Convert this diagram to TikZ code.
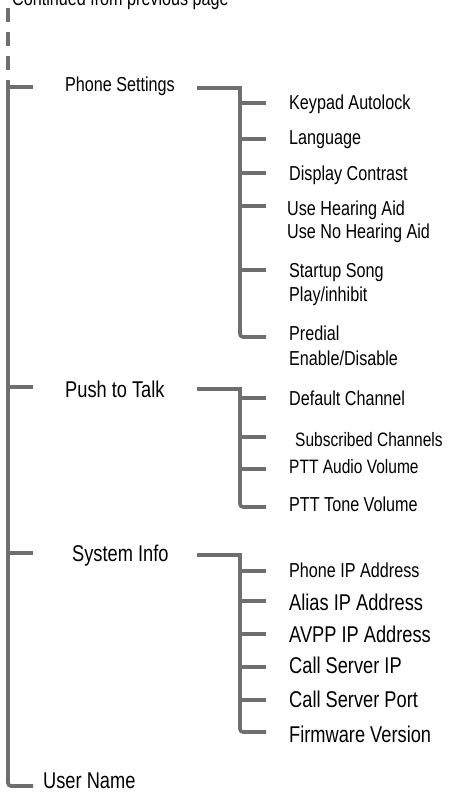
\documentclass[tikz,border=0pt]{standalone}
\usepackage{fontspec}
\setmainfont{Liberation Sans}[FakeStretch=0.8]
\definecolor{lineg}{HTML}{6E6E6E}
\tikzset{
  ln/.style={draw=lineg, line width=3.6pt},
  lbl/.style={anchor=base west, inner sep=0pt, font=\fontsize{20.2}{24}\selectfont},
  mid/.style={lbl, font=\fontsize{19.4}{23}\selectfont},
  big/.style={lbl, font=\fontsize{22.8}{27}\selectfont}
}
\begin{document}
\begin{tikzpicture}[x=1pt,y=-1pt]
\useasboundingbox (0,0) rectangle (453,792);
% texts
\node[lbl] (cont) at (12,6) {Continued from previous page};
\node[lbl] (ps) at (65,91.7) {Phone Settings};
\node[big] (ptt) at (65,397) {Push to Talk};
\node[big] (si) at (72,561) {System Info};
\node[big] (un) at (43,788) {User Name};
\node[lbl] (ka) at (289,109) {Keypad Autolock};
\node[lbl] (lang) at (289,144) {Language};
\node[lbl] (dc) at (289,180) {Display Contrast};
\node[lbl] (uha) at (287,215) {Use Hearing Aid};
\node[lbl] (unha) at (287,238) {Use No Hearing Aid};
\node[lbl] (ss) at (289,277) {Startup Song};
\node[lbl] (pi) at (289,301) {Play/inhibit};
\node[lbl] (pd) at (289,340) {Predial};
\node[lbl] (ed) at (289,365) {Enable/Disable};
\node[lbl] (dch) at (289,405) {Default Channel};
\node[mid] (sch) at (295,446) {Subscribed Channels};
\node[mid] (pav) at (289,473) {PTT Audio Volume};
\node[lbl] (ptv) at (289,511) {PTT Tone Volume};
\node[lbl] (pip) at (289,577) {Phone IP Address};
\node[big] (aip) at (289,610) {Alias IP Address};
\node[big] (avpp) at (289,642) {AVPP IP Address};
\node[big] (csip) at (289,673) {Call Server IP};
\node[big] (csp) at (289,707) {Call Server Port};
\node[big] (fv) at (289,742) {Firmware Version};
% coordinates
\coordinate (mtop) at (8,8);
\coordinate (msol) at (8,80);
\coordinate (mbot) at (8,786);
\coordinate (unend) at (33,786);
\coordinate (b1) at (197,88);
\coordinate (s1) at (240,88);
\coordinate (s1e) at (240,337);
\coordinate (b2) at (197,389);
\coordinate (s2) at (240,389);
\coordinate (s2e) at (240,507);
\coordinate (b3) at (197,555);
\coordinate (s3) at (240,555);
\coordinate (s3e) at (240,732);
% main spine
\draw[ln, dash pattern=on 14pt off 10pt] (mtop) -- (msol);
\draw[ln] (msol) -- (8,200);
\draw[ln, rounded corners=3pt] (8,200) -- (mbot) -- (unend);
\draw[ln] (8,87) -- (33,87);
\draw[ln] (8,387) -- (33,387);
\draw[ln] (8,553) -- (33,553);
% branch 1
\draw[ln] (b1) -- (s1) -- (240,200);
\draw[ln, rounded corners=3pt] (240,200) -- (s1e) -- (266,337);
\foreach \y in {103,139,173,206,270} \draw[ln] (240,\y) -- (266,\y);
% branch 2
\draw[ln] (b2) -- (s2) -- (240,450);
\draw[ln, rounded corners=3pt] (240,450) -- (s2e) -- (266,507);
\foreach \y in {398,437,469} \draw[ln] (240,\y) -- (266,\y);
% branch 3
\draw[ln] (b3) -- (s3) -- (240,650);
\draw[ln, rounded corners=3pt] (240,650) -- (s3e) -- (266,732);
\foreach \y in {571,601,634,667,700} \draw[ln] (240,\y) -- (266,\y);
\end{tikzpicture}
\end{document}
